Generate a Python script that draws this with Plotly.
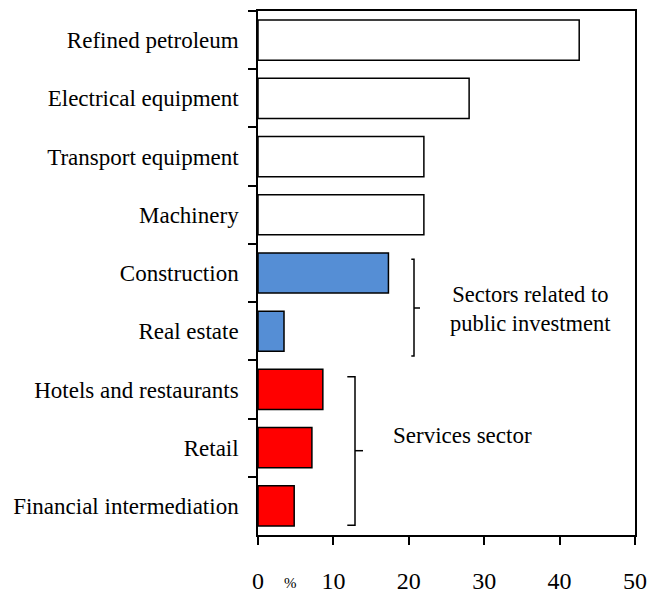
import plotly.graph_objects as go

categories = ["Refined petroleum", "Electrical equipment", "Transport equipment", "Machinery",
              "Construction", "Real estate", "Hotels and restaurants", "Retail",
              "Financial intermediation"]
values = [42.6, 28.0, 22.0, 22.0, 17.3, 3.45, 8.6, 7.15, 4.8]
colors = ["white"] * 4 + ["#558ED5"] * 2 + ["#FF0000"] * 3
x_ticks = [0, 10, 20, 30, 40, 50]

FONT = "Liberation Serif"
L, R, T, B = 258, 635, 11, 535  # plot area in px
W, H = 652, 594

fig = go.Figure(go.Bar(
    x=values, y=categories, orientation="h",
    marker=dict(color=colors, line=dict(color="black", width=1.5)),
    hoverinfo="skip",
))

fig.update_layout(
    width=W, height=H,
    margin=dict(l=L, r=W - R, t=T, b=H - B, autoexpand=False),
    plot_bgcolor="white", paper_bgcolor="white",
    bargap=0.31, showlegend=False,
    font=dict(family=FONT, color="black"),
)
fig.update_xaxes(
    range=[0, 50], tickvals=x_ticks, ticks="outside", ticklen=8, tickwidth=1.5,
    tickcolor="black", showline=True, linecolor="black", linewidth=1.5, mirror=True,
    showgrid=False, zeroline=False, tickfont=dict(size=24, family=FONT),
    ticklabelstandoff=15, automargin=False,
)
fig.update_yaxes(
    categoryorder="array", categoryarray=categories, autorange="reversed",
    ticks="outside", ticklen=8, tickwidth=1.5, tickcolor="black",
    showline=True, linecolor="black", linewidth=1.5, mirror=True,
    showgrid=False, tickfont=dict(size=23, family=FONT), tickson="boundaries",
    ticklabelstandoff=13, automargin=False,
)

line = dict(color="black", width=1.5)
def py(v):
    return (B - v) / (B - T)
def dx(v):
    return (v - L) / (R - L) * 50

# bracket: public investment
fig.add_shape(type="path", xref="x", yref="paper",
              path=f"M {dx(411.3)} {py(259.3)} L {dx(414)} {py(259.3)} L {dx(414)} {py(356)} L {dx(411.3)} {py(356)}",
              line=line)
fig.add_shape(type="line", xref="x", yref="paper", x0=dx(414), x1=dx(420), y0=py(308), y1=py(308), line=line)
# bracket: services
fig.add_shape(type="path", xref="x", yref="paper",
              path=f"M {dx(347.3)} {py(376.7)} L {dx(355)} {py(376.7)} L {dx(355)} {py(525.3)} L {dx(347.3)} {py(525.3)}",
              line=line)
fig.add_shape(type="line", xref="x", yref="paper", x0=dx(355), x1=dx(363), y0=py(450.7), y1=py(450.7), line=line)

fig.add_annotation(x=dx(530), y=py(309), xref="x", yref="paper",
                   text="Sectors related to<br>public investment", showarrow=False,
                   font=dict(size=22.5, family=FONT), align="center")
fig.add_annotation(x=dx(391), y=py(450), xref="x", yref="paper", xanchor="left",
                   text="Services sector", showarrow=False,
                   font=dict(size=23, family=FONT))
fig.add_annotation(x=(282 - L) / (R - L), y=py(583), xref="paper", yref="paper",
                   yanchor="middle", text="%", showarrow=False,
                   font=dict(size=15, family=FONT))

fig.write_html("out.html", config={"displayModeBar": False},
               post_script="document.body.style.margin='0';")
